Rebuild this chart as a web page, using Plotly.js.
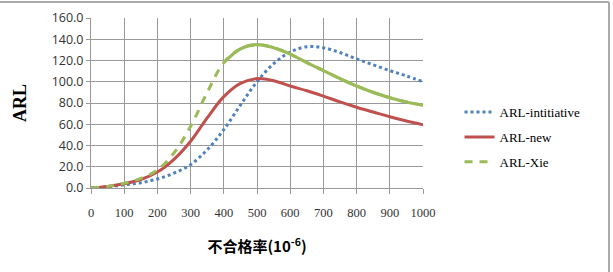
<!DOCTYPE html>
<html><head><meta charset="utf-8">
<script src="https://cdn.plot.ly/plotly-3.0.1.min.js"></script>
<style>html,body{margin:0;padding:0;background:#fff;}#chart{width:613px;height:272px;}</style>
</head><body><div id="chart"></div>
<script>
const xValues = [0,50,100,150,200,250,300,350,400,450,500,550,600,650,700,750,800,850,900,950,1000];
const arlInitiative = [0,1,3,5,8.5,14,22,36,55,78,100,117,128,133,132,127.5,121.5,116,110.5,105.5,100];
const arlNew = [0,1.5,4,8,15,27,44,66,86,98.5,103,101,96,91.5,86.5,81,76,71.5,67,63,59.5];
const arlXie = [0,1.5,4.5,9,17,33,58,90,118,131,135,132,126,118,110.5,103,96,90,85,81,78];
const xTicks = [0,100,200,300,400,500,600,700,800,900,1000];
const yTicks = [0,20,40,60,80,100,120,140,160];
const seriesNames = ['ARL-intitiative','ARL-new','ARL-Xie'];

const splitIdx = xValues.indexOf(400);
const traces = [
  {x: xValues, y: arlInitiative, name: seriesNames[0], mode:'lines', legendgroup:'a',
   line:{color:'#4F81BD', width:3, dash:'dot', shape:'spline'}},
  {x: xValues, y: arlNew, name: seriesNames[1], mode:'lines', legendgroup:'b',
   line:{color:'#C0504D', width:3, shape:'spline'}},
  {x: xValues, y: arlXie, name: seriesNames[2], mode:'lines', legendgroup:'c',
   line:{color:'#9BBB59', width:3, dash:'8px,7px', shape:'spline'}},
  {x: xValues.slice(splitIdx), y: arlXie.slice(splitIdx), name: seriesNames[2], mode:'lines', legendgroup:'c', showlegend:false,
   line:{color:'#9BBB59', width:3.2, shape:'spline'}}
];

const layout = {
  width:613, height:272,
  margin:{l:91, r:190, t:18, b:84},
  paper_bgcolor:'#fff', plot_bgcolor:'#fff',
  showlegend:true,
  legend:{x:1.11, xanchor:'left', y:0.535, yanchor:'top', traceorder:'grouped', tracegroupgap:5,
    font:{family:'Liberation Serif, Times New Roman, serif', size:13, color:'#000'}, bgcolor:'rgba(0,0,0,0)'},
  xaxis:{range:[0,1000], tickvals:xTicks, ticktext:xTicks.map(String), showgrid:true, gridcolor:'#999', gridwidth:1,
    zeroline:false, showline:true, linecolor:'#999', ticks:'outside', ticklen:5, tickcolor:'#999', ticklabelstandoff:8,
    tickfont:{family:'Liberation Serif, Times New Roman, serif', size:12.5, color:'#333'},
    title:{text:'<b>不合格率(10<sup>-6</sup>)</b>', standoff:22, font:{family:'Noto Sans CJK TC, Liberation Serif, serif', size:15, color:'#000'}}},
  yaxis:{range:[0,160], tickvals:yTicks, ticktext:yTicks.map(v=>v.toFixed(1)), showgrid:true, gridcolor:'#999', gridwidth:1,
    zeroline:false, showline:true, linecolor:'#999', ticks:'outside', ticklen:4, tickcolor:'#999',
    tickfont:{family:'Open Sans, Noto Sans, sans-serif', size:12.5, color:'#333'},
    title:{text:'<b>ARL</b>', standoff:20, font:{family:'Liberation Serif, Times New Roman, serif', size:18, color:'#000'}}},
  shapes:[
    {type:'line', xref:'paper', yref:'paper', x0:-0.28, x1:1.56, y0:1.0+16/170, y1:1.0+16/170, line:{color:'#aaa', width:2}},
    {type:'line', xref:'paper', yref:'paper', x0:(609-91)/332, x1:(609-91)/332, y0:1.0+16/170, y1:-0.6, line:{color:'#aaa', width:2}}
  ]
};
Plotly.newPlot('chart', traces, layout, {displayModeBar:false, staticPlot:true});
</script></body></html>
